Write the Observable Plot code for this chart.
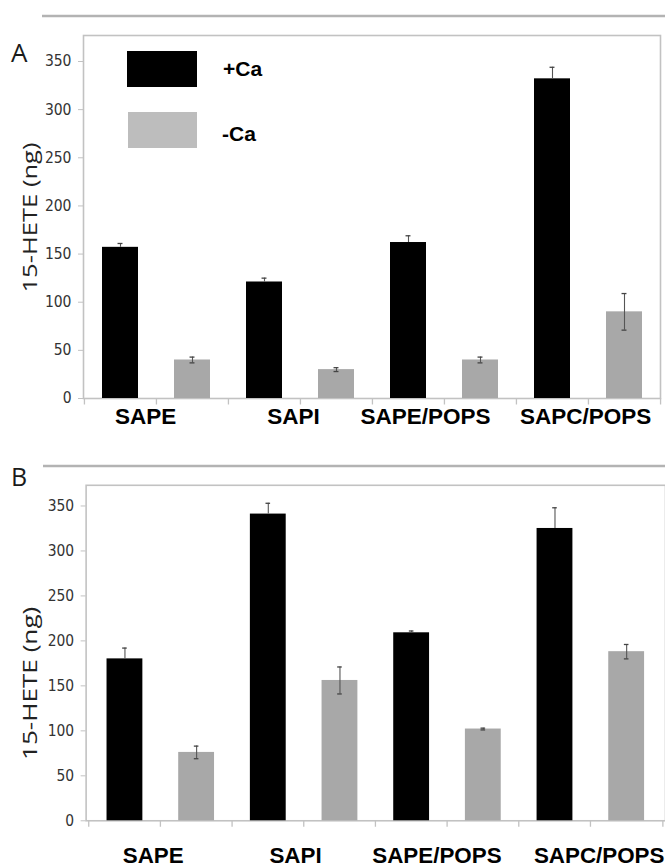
<!DOCTYPE html>
<html><head><meta charset="utf-8">
<script src="https://cdn.jsdelivr.net/npm/d3@7"></script>
<script src="https://cdn.jsdelivr.net/npm/@observablehq/plot@0.6"></script>
<style>
html,body{margin:0;padding:0;background:#fff;overflow:hidden;}
#wrap{position:relative;width:665px;height:868px;overflow:hidden;background:#fff;}
.panel{position:absolute;left:0;}
#overlay{position:absolute;left:0;top:0;pointer-events:none;}
</style></head><body>
<div id="wrap"></div>
<script>
// ---- data ----
const groups = ["SAPE", "SAPI", "SAPE/POPS", "SAPC/POPS"];
const conditions = ["+Ca", "-Ca"];
const yTicks = [0, 50, 100, 150, 200, 250, 300, 350];
const yLabel = "15-HETE (ng)";
const panelLetters = ["A", "B"];

const plusA = [157, 121, 162, 332];
const plusAErr = [4, 4, 7, 12];
const minusA = [40, 30, 40, 90];
const minusAErr = [3, 2, 3, 19];

const plusB = [180, 341, 209, 325];
const plusBErr = [12, 12, 2, 23];
const minusB = [76, 156, 102, 188];
const minusBErr = [7, 15, 1, 8];

// ---- styles / layout ----
const BAR_COLORS = ["#000000", "#a8a8a8"];
const LEGEND_GRAY = "#bdbdbd";
const AXIS_GRAY = "#c2c2c2";
const TICK_FONT = "'DejaVu Sans Condensed', 'Liberation Sans Narrow', sans-serif";
const CAT_FONT = "'Liberation Sans', Arial, sans-serif";
const LABEL_FONT = "'Open Sans', 'Noto Sans', sans-serif";

function makePanel(cfg) {
  const {plus, plusErr, minus, minusErr, width, height, mt, mb, ml, mr, ymax,
         catDy, catDx, labelDx, labelDy, labelLen} = cfg;
  const rows = [];
  groups.forEach((g, i) => {
    rows.push({key: g + " " + conditions[0], group: g, cond: conditions[0], value: plus[i], err: plusErr[i]});
    rows.push({key: g + " " + conditions[1], group: g, cond: conditions[1], value: minus[i], err: minusErr[i]});
  });
  const keys = rows.map(d => d.key);
  const step = (width - ml - mr) / keys.length;
  const pxPerUnit = (height - mt - mb) / ymax;
  const tickUnits = 6.5 / pxPerUnit;
  const capInset = (step * 0.5 - 5) / 2;

  const catMarks = groups.map((g, i) =>
    Plot.text([g], {
      x: () => g + " " + conditions[0],
      frameAnchor: "bottom",
      text: d => d,
      dx: step / 2 + catDx[i],
      dy: catDy,
      fontSize: 22.5,
      fontWeight: "bold",
      fontFamily: CAT_FONT,
      fill: "#000",
      lineAnchor: "middle"
    })
  );

  const chart = Plot.plot({
    width, height,
    marginTop: mt, marginBottom: mb, marginLeft: ml, marginRight: mr,
    style: {background: "transparent", overflow: "visible"},
    x: {type: "band", domain: keys, paddingInner: 0.5, paddingOuter: 0.25, align: 0.5, axis: null},
    y: {domain: [0, ymax], axis: null},
    color: {domain: conditions, range: BAR_COLORS},
    marks: [
      Plot.frame({stroke: AXIS_GRAY, strokeWidth: 1.6}),
      Plot.ruleX(keys, {x: d => d, y1: 0, y2: -tickUnits, dx: -step / 2, stroke: AXIS_GRAY, strokeWidth: 1.3}),
      Plot.ruleX([keys[keys.length - 1]], {x: d => d, y1: 0, y2: -tickUnits, dx: step / 2, stroke: AXIS_GRAY, strokeWidth: 1.3}),
      Plot.axisY({
        ticks: yTicks, tickSize: 5, tickPadding: 7, label: null,
        stroke: AXIS_GRAY, fill: "#333",
        fontSize: 15.5, fontFamily: TICK_FONT
      }),
      Plot.barY(rows, {x: "key", y: "value", fill: "cond"}),
      Plot.ruleX(rows, {
        x: "key",
        y1: d => d.cond === conditions[0] ? d.value : d.value - d.err,
        y2: d => d.value + d.err,
        stroke: "#555", strokeWidth: 1.1
      }),
      Plot.tickY(rows, {x: "key", y: d => d.value + d.err, insetLeft: capInset, insetRight: capInset, stroke: "#444", strokeWidth: 1.3}),
      Plot.tickY(rows.filter(d => d.cond === conditions[1]), {x: "key", y: d => d.value - d.err, insetLeft: capInset, insetRight: capInset, stroke: "#444", strokeWidth: 1.3}),
      ...catMarks,
      Plot.text([yLabel], {
        frameAnchor: "left", text: d => d, rotate: -90,
        dx: labelDx, dy: labelDy,
        fontSize: 20, fontFamily: LABEL_FONT, fill: "#222",
        textAnchor: "middle", lineAnchor: "middle"
      })
    ]
  });
  // stretch the rotated y label along its length like the original
  d3.select(chart).selectAll("text").filter(function() { return this.textContent === yLabel; })
    .attr("textLength", labelLen).attr("lengthAdjust", "spacingAndGlyphs");
  return chart;
}

const wrap = document.getElementById("wrap");

const chartA = makePanel({
  plus: plusA, plusErr: plusAErr, minus: minusA, minusErr: minusAErr,
  width: 665, height: 440, mt: 35, mb: 42, ml: 83, mr: 5, ymax: 377,
  catDy: 18, catDx: [-11, -7, -19, -3],
  labelDx: -53, labelDy: 0.5, labelLen: 150
});
chartA.classList.add("panel");
chartA.style.top = "0px";
wrap.appendChild(chartA);

const chartB = makePanel({
  plus: plusB, plusErr: plusBErr, minus: minusB, minusErr: minusBErr,
  width: 668, height: 428, mt: 45, mb: 46, ml: 86, mr: 0, ymax: 373,
  catDy: 35, catDx: [-8, -9, -11, 8],
  labelDx: -56, labelDy: 30.5, labelLen: 154
});
chartB.classList.add("panel");
chartB.style.top = "440px";
wrap.appendChild(chartB);

// ---- decorations: separator rules, panel letters, legend ----
const ov = d3.select(wrap).append("svg").attr("id", "overlay")
  .attr("width", 665).attr("height", 868);
ov.append("line").attr("x1", 42).attr("x2", 665).attr("y1", 16).attr("y2", 16)
  .attr("stroke", "#b3b3b3").attr("stroke-width", 2.4);
ov.append("line").attr("x1", 43).attr("x2", 665).attr("y1", 466).attr("y2", 466)
  .attr("stroke", "#b3b3b3").attr("stroke-width", 2.4);
ov.append("text").text(panelLetters[0]).attr("x", 11).attr("y", 62)
  .attr("font-family", LABEL_FONT).attr("font-size", 26).attr("fill", "#1a1a1a");
ov.append("text").text(panelLetters[1]).attr("x", 11).attr("y", 486)
  .attr("font-family", LABEL_FONT).attr("font-size", 25).attr("fill", "#1a1a1a");
ov.append("rect").attr("x", 127).attr("y", 51).attr("width", 70).attr("height", 36).attr("fill", BAR_COLORS[0]);
ov.append("rect").attr("x", 128).attr("y", 112).attr("width", 69).attr("height", 36).attr("fill", LEGEND_GRAY);
ov.append("text").text(conditions[0]).attr("x", 223).attr("y", 76)
  .attr("font-family", CAT_FONT).attr("font-weight", "bold").attr("font-size", 21).attr("fill", "#000");
ov.append("text").text(conditions[1]).attr("x", 222).attr("y", 141)
  .attr("font-family", CAT_FONT).attr("font-weight", "bold").attr("font-size", 21).attr("fill", "#000");
</script>
</body></html>
